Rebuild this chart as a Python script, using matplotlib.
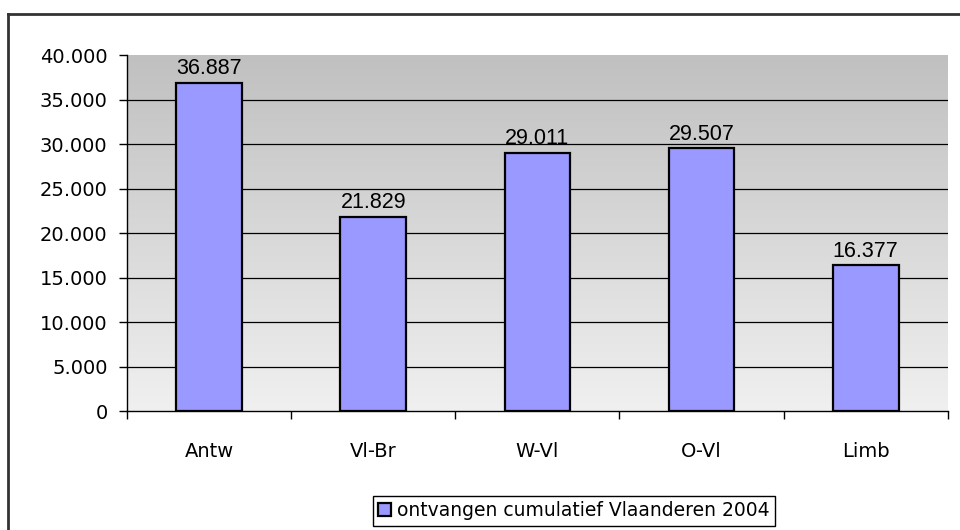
import numpy as np
import matplotlib
matplotlib.use('Agg')
import matplotlib.pyplot as plt
from matplotlib.lines import Line2D
from matplotlib.colors import LinearSegmentedColormap

categories = ['Antw', 'Vl-Br', 'W-Vl', 'O-Vl', 'Limb']
values = [36887, 21829, 29011, 29507, 16377]
value_labels = ['36.887', '21.829', '29.011', '29.507', '16.377']
yticks = [0, 5000, 10000, 15000, 20000, 25000, 30000, 35000, 40000]
ytick_labels = ['0', '5.000', '10.000', '15.000', '20.000', '25.000', '30.000', '35.000', '40.000']
series_name = 'ontvangen cumulatief Vlaanderen 2004'


def make_chart():
    fig = plt.figure(figsize=(9.6, 5.3), dpi=100)
    ax = fig.add_axes([0.1323, 0.2245, 0.855, 0.6717])

    # grey gradient background of the plot area
    cmap = LinearSegmentedColormap.from_list('bg', ['#f0f0f0', '#c0c0c0'])
    grad = np.linspace(0, 1, 256).reshape(-1, 1)
    ax.imshow(grad, cmap=cmap, aspect='auto', origin='lower',
              extent=[-0.5, 4.5, 0, 40000], zorder=0)

    x = np.arange(len(categories))
    # gridlines, none on the top edge
    for y in yticks[1:-1]:
        ax.axhline(y, color='black', lw=0.9, zorder=1)
    ax.bar(x, values, width=0.4, color='#9999ff', edgecolor='black', lw=1.6, zorder=2,
           label=series_name)
    for xi, v, lab in zip(x, values, value_labels):
        ax.text(xi, v + 400, lab, ha='center', va='bottom', fontsize=15.5,
                family='Liberation Sans', zorder=3)

    ax.set_xlim(-0.5, 4.5)
    ax.set_ylim(0, 40000)
    ax.set_yticks(yticks)
    ax.set_yticklabels(ytick_labels, fontsize=14)
    ax.set_xticks(x)
    ax.set_xticklabels(categories, fontsize=14)
    ax.set_xticks(np.arange(-0.5, 5, 1), minor=True)
    ax.tick_params(axis='x', which='major', length=0, pad=22)
    ax.tick_params(axis='x', which='minor', length=6, width=1, direction='out')
    ax.tick_params(axis='y', length=6, width=1, direction='out', pad=8)
    for side in ['top', 'right']:
        ax.spines[side].set_visible(False)
    ax.spines['left'].set_linewidth(1)
    ax.spines['bottom'].set_linewidth(1)

    # outer chart frame (top and left edges visible)
    fig.add_artist(Line2D([8 / 960, 1], [1 - 14 / 530, 1 - 14 / 530],
                          transform=fig.transFigure, color='#333333', lw=2))
    fig.add_artist(Line2D([8 / 960, 8 / 960], [0, 1 - 14 / 530],
                          transform=fig.transFigure, color='#333333', lw=2))

    leg = fig.legend(loc='lower center', bbox_to_anchor=(574 / 960, 4 / 530),
                     fontsize=13.5, fancybox=False, framealpha=1,
                     edgecolor='black', handlelength=0.7, handleheight=0.7,
                     handletextpad=0.3, borderpad=0.3, borderaxespad=0)
    leg.get_frame().set_linewidth(1)
    return fig


def main():
    fig = make_chart()
    fig.savefig('out.png', dpi=100)

if __name__ == "__main__":
    main()
